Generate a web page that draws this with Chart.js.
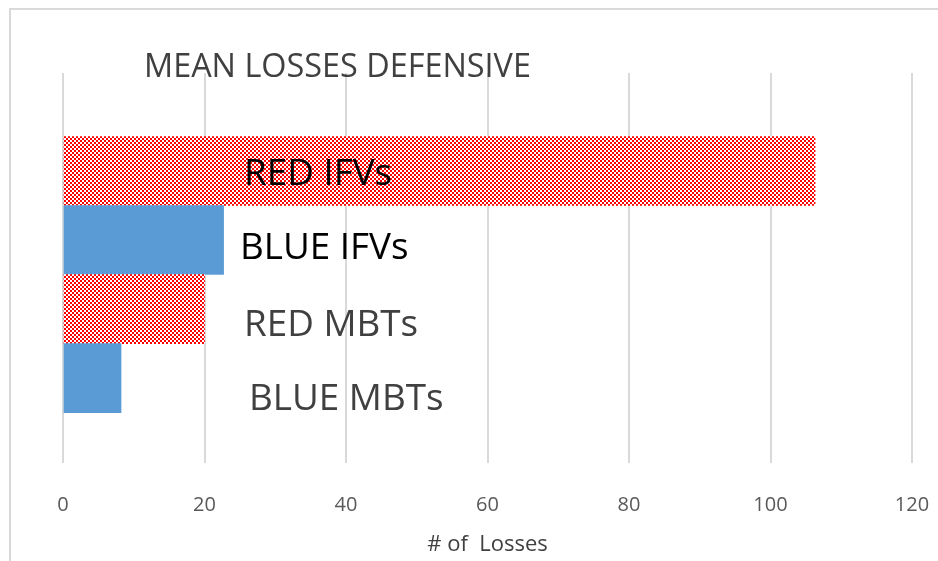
<!DOCTYPE html>
<html>
<head>
<meta charset="utf-8">
<script src="https://cdn.jsdelivr.net/npm/chart.js@4.4.1/dist/chart.umd.min.js"></script>
<style>
  body { margin: 0; background: #fff; overflow: hidden; }
  #wrap { position: relative; width: 938px; height: 561px; }
  #frame { position: absolute; left: 9px; top: 8px; width: 1000px; height: 700px; border: 2px solid #d9d9d9; }
  canvas { position: absolute; left: 0; top: 0; }
</style>
</head>
<body>
<div id="wrap">
  <div id="frame"></div>
  <canvas id="myChart" width="938" height="561"></canvas>
</div>
<script>
// values
let categories = ['RED IFVs', 'BLUE IFVs', 'RED MBTs', 'BLUE MBTs']
let losses = [106.3, 22.7, 20.0, 8.2]
let xTicks = [0, 20, 40, 60, 80, 100, 120]
let chartTitle = 'MEAN LOSSES DEFENSIVE'
let axisTitle = '# of  Losses'

const ctx = document.getElementById('myChart').getContext('2d');

// red checker fill like the office "dotted" pattern
function checker() {
    let c = document.createElement('canvas')
    c.width = 4; c.height = 4
    let p = c.getContext('2d')
    p.fillStyle = '#ffffff'
    p.fillRect(0, 0, 4, 4)
    p.fillStyle = '#ff0000'
    p.fillRect(0, 0, 2, 2)
    p.fillRect(2, 2, 2, 2)
    return ctx.createPattern(c, 'repeat')
}
let redFill = checker()
let fills = categories.map(c => c.startsWith('RED') ? redFill : '#5b9bd5')

// text boxes sitting to the right of the bars
let labelStyle = [
    {x: 244, dy: 14, color: '#000000'},
    {x: 240, dy: 19, color: '#000000'},
    {x: 244, dy: 27, color: '#404040'},
    {x: 249, dy: 32, color: '#404040'}
]

let textPlugin = {
    id: 'texts',
    afterDatasetsDraw(chart) {
        let c = chart.ctx
        let y = chart.scales.y
        c.save()
        c.textBaseline = 'alphabetic'
        c.textAlign = 'left'
        c.font = '36.8px "Open Sans"'
        categories.forEach((name, i) => {
            let s = labelStyle[i]
            c.fillStyle = s.color
            c.fillText(name, s.x, y.getPixelForValue(i + 1) + s.dy)
        })
        c.font = '32.4px "Open Sans"'
        c.fillStyle = '#404040'
        c.fillText(chartTitle, 144, 77)
        c.restore()
    }
}

let obj = {
    type: 'bar',
    data: {
        datasets: [{
            data: losses.map((v, i) => ({x: v, y: i + 1})),
            backgroundColor: fills,
            borderWidth: 0,
            barThickness: 69
        }]
    },
    options: {
        indexAxis: 'y',
        responsive: false,
        animation: false,
        layout: { padding: { top: 73, left: 63, right: 26, bottom: 0 } },
        plugins: { legend: { display: false }, tooltip: { enabled: false } },
        scales: {
            y: {
                type: 'linear',
                reverse: true,
                offset: false,
                min: -0.42,
                max: 5.23,
                display: false
            },
            x: {
                min: 0,
                max: 120,
                afterBuildTicks: s => { s.ticks = xTicks.map(v => ({value: v})) },
                afterFit: s => { s.height = 98 },
                border: { display: false },
                grid: { color: '#d9d9d9', lineWidth: 2, drawTicks: true, tickLength: 30, tickColor: 'rgba(0,0,0,0)' },
                ticks: { padding: 0, color: '#595959', font: { family: 'Open Sans', size: 20 } },
                title: {
                    display: true,
                    text: axisTitle,
                    color: '#404040',
                    font: { family: 'Open Sans', size: 22 },
                    padding: { top: 0, bottom: 3 }
                }
            }
        }
    },
    plugins: [textPlugin]
}
let myChart = new Chart(ctx, obj);
</script>
</body>
</html>
